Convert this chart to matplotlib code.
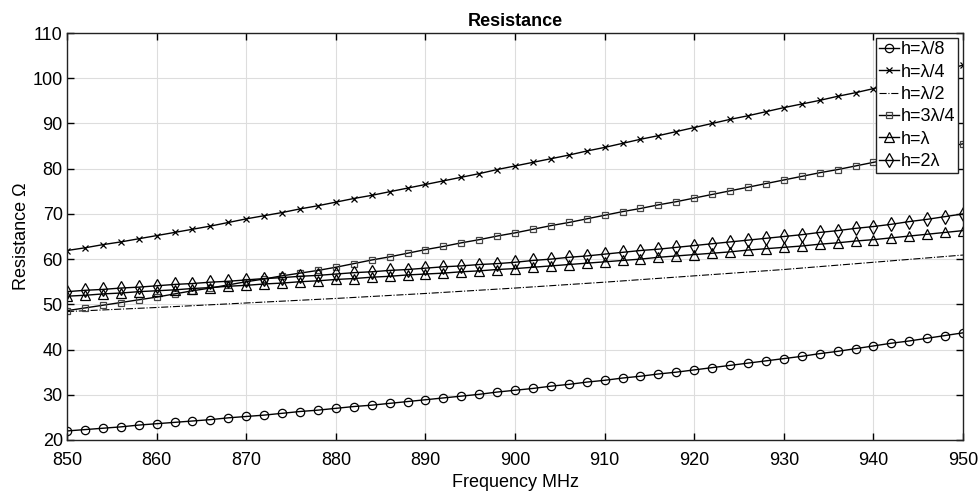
import matplotlib.pyplot as plt
import numpy as np

plt.rcParams['font.family'] = ['Liberation Sans', 'DejaVu Sans']

freq = np.arange(850, 951, 2)
freq10 = np.arange(850, 951, 10)

r_l8 = [22.0, 22.3, 22.6, 22.9, 23.3, 23.6, 23.9, 24.2, 24.5, 24.9,
        25.2, 25.5, 25.9, 26.3, 26.6, 27.0, 27.4, 27.7, 28.1, 28.5,
        28.9, 29.3, 29.7, 30.1, 30.6, 31.0, 31.4, 31.9, 32.3, 32.8,
        33.2, 33.7, 34.1, 34.6, 35.0, 35.5, 36.0, 36.5, 37.0, 37.5,
        38.0, 38.5, 39.1, 39.6, 40.2, 40.8, 41.4, 41.9, 42.5, 43.1, 43.7]
r_l4 = [61.9, 62.5, 63.2, 63.8, 64.5, 65.2, 65.9, 66.6, 67.3, 68.1,
        68.9, 69.6, 70.3, 71.1, 71.8, 72.6, 73.4, 74.1, 74.9, 75.7,
        76.5, 77.3, 78.1, 78.9, 79.8, 80.6, 81.4, 82.2, 83.0, 83.9,
        84.7, 85.6, 86.5, 87.3, 88.2, 89.1, 90.0, 90.9, 91.7, 92.6,
        93.5, 94.3, 95.1, 96.0, 96.8, 97.7, 98.7, 99.7, 100.8, 101.8, 102.9]
r_l2 = [48.4, 49.3, 50.3, 51.3, 52.4, 53.6, 54.9, 56.3, 57.7, 59.3, 60.9]
r_3l4 = [48.6, 49.2, 49.8, 50.4, 51.0, 51.6, 52.3, 53.0, 53.6, 54.3,
         55.0, 55.6, 56.3, 56.9, 57.5, 58.2, 59.0, 59.8, 60.5, 61.3,
         62.1, 62.8, 63.6, 64.3, 65.1, 65.8, 66.6, 67.4, 68.1, 68.9,
         69.7, 70.5, 71.2, 72.0, 72.7, 73.5, 74.3, 75.1, 75.9, 76.7,
         77.5, 78.3, 79.1, 79.8, 80.6, 81.4, 82.2, 83.0, 83.9, 84.7, 85.5]
r_l1 = [51.8, 52.0, 52.3, 52.5, 52.8, 53.0, 53.2, 53.5, 53.7, 54.0,
        54.2, 54.5, 54.7, 55.0, 55.2, 55.5, 55.7, 56.0, 56.2, 56.5,
        56.7, 56.9, 57.2, 57.4, 57.7, 57.9, 58.2, 58.5, 58.8, 59.1,
        59.4, 59.7, 60.0, 60.4, 60.7, 61.0, 61.3, 61.6, 62.0, 62.3,
        62.6, 62.9, 63.3, 63.6, 64.0, 64.3, 64.7, 65.1, 65.5, 65.9, 66.3]
r_2l = [52.8, 53.1, 53.3, 53.6, 53.8, 54.1, 54.4, 54.6, 54.9, 55.1,
        55.4, 55.7, 55.9, 56.2, 56.4, 56.7, 57.0, 57.2, 57.5, 57.7,
        58.0, 58.3, 58.5, 58.8, 59.0, 59.3, 59.7, 60.0, 60.4, 60.7,
        61.1, 61.5, 61.9, 62.2, 62.6, 63.0, 63.4, 63.8, 64.2, 64.6,
        65.0, 65.4, 65.9, 66.3, 66.8, 67.2, 67.7, 68.3, 68.8, 69.4, 70.0]

labels = ['h=λ/8', 'h=λ/4', 'h=λ/2', 'h=3λ/4', 'h=λ', 'h=2λ']

fig = plt.figure(figsize=(9.8, 4.97), dpi=100)
ax = fig.add_axes([0.0684, 0.1147, 0.9143, 0.8189])

lw = 1.0
ax.plot(freq, r_l8, 'k-', marker='o', ms=6, mfc='none', mew=0.9, lw=lw, label=labels[0])
ax.plot(freq, r_l4, 'k-', marker='x', ms=4.5, mew=0.9, lw=lw, label=labels[1])
ax.plot(freq10, r_l2, 'k-.', lw=0.8, label=labels[2])
ax.plot(freq, r_3l4, 'k-', marker='s', ms=4.5, mfc='none', mec='#444444', mew=0.9, lw=lw, label=labels[3])
ax.plot(freq, r_l1, 'k-', marker='^', ms=6.5, mfc='none', mew=0.9, lw=lw, label=labels[4])
ax.plot(freq, r_2l, 'k-', marker='d', ms=7, mfc='none', mew=0.9, lw=lw, label=labels[5])

ax.set_xlim(850, 950)
ax.set_ylim(20, 110)
ax.set_xticks(np.arange(850, 951, 10))
ax.set_yticks(np.arange(20, 111, 10))
ax.grid(True, color='#dddddd', lw=0.8)
ax.tick_params(direction='in', top=True, right=True, labelsize=13, length=5, width=1)
ax.tick_params(axis='x', pad=9)
ax.tick_params(axis='y', pad=3)
for s in ax.spines.values():
    s.set_linewidth(1.0)
    s.set_color('#222222')

ax.set_title('Resistance', fontsize=13, fontweight='bold', pad=5)
ax.set_xlabel('Frequency MHz', fontsize=13, labelpad=3)
ax.set_ylabel('Resistance Ω', fontsize=13, labelpad=2)

leg = ax.legend(loc='upper right', fontsize=13, handlelength=1.1, handletextpad=0.1,
                borderpad=0.15, labelspacing=0.3, borderaxespad=0.3, fancybox=False,
                framealpha=1, edgecolor='#222222')
leg.get_frame().set_linewidth(1.0)

fig.savefig('out.png', dpi=100)
